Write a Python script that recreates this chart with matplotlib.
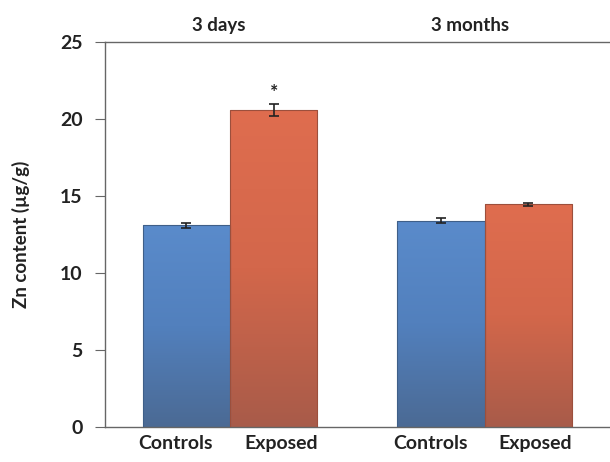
import numpy as np
import matplotlib.pyplot as plt
from matplotlib.colors import LinearSegmentedColormap

# values
groups = ['3 days', '3 months']
categories = ['Controls', 'Exposed', 'Controls', 'Exposed']
positions = [0, 1, 2.91, 3.91]
values = [13.1, 20.6, 13.4, 14.45]
errors = [0.15, 0.4, 0.15, 0.08]
significant = [False, True, False, False]

plt.rcParams['font.family'] = ['Lato', 'DejaVu Sans']
plt.rcParams['font.weight'] = 'bold'

fig = plt.figure(figsize=(6.1, 4.62), dpi=100)
ax = fig.add_axes([0.172, 0.076, 0.826, 0.833])

blue = LinearSegmentedColormap.from_list('b', ['#4b6a94', '#5280bd', '#5a8bcb'])
red = LinearSegmentedColormap.from_list('r', ['#a85b49', '#d3674b', '#df6d4f'])

width = 1.0
for i, (x, v) in enumerate(zip(positions, values)):
    cmap = blue if categories[i] == 'Controls' else red
    edge = '#3f5f88' if categories[i] == 'Controls' else '#9c4f3c'
    bar = ax.bar(x, v, width=width, color='none', edgecolor=edge, linewidth=0.8, zorder=3)[0]
    grad = np.linspace(0, 1, 256).reshape(-1, 1)
    im = ax.imshow(grad, cmap=cmap, aspect='auto', origin='lower',
                   extent=[x - width / 2, x + width / 2, 0, v], zorder=2)
    im.set_clip_path(bar)
    ax.errorbar(x, v, yerr=errors[i], fmt='none', ecolor='#222222',
                elinewidth=1.2, capsize=3.5, capthick=1.2, zorder=4)
    if significant[i]:
        ax.text(x, v + errors[i] + 0.2, '*', ha='center', va='bottom',
                fontsize=14, fontweight='bold', color='#222222')

ax.set_xlim(-0.93, 4.83)
ax.set_ylim(0, 25)
ax.set_yticks([0, 5, 10, 15, 20, 25])
# category labels sit a little apart from the bar centres, like the original
shift = {'Controls': -0.12, 'Exposed': 0.08}
ax.set_xticks([p + shift[c] for p, c in zip(positions, categories)])
ax.set_xticklabels(categories, fontsize=14, fontweight='bold', color='#222222')
ax.tick_params(axis='x', length=0, pad=6)
ax.tick_params(axis='y', length=7, color='#666666', labelsize=14, labelcolor='#222222', pad=9)
for lbl in ax.get_yticklabels():
    lbl.set_fontweight('bold')

ax.set_ylabel('Zn content (µg/g)', fontsize=13.5, fontweight='bold', color='#222222', labelpad=22)

for s in ['left', 'top', 'bottom']:
    ax.spines[s].set_color('#666666')
    ax.spines[s].set_linewidth(1.0)
ax.spines['right'].set_visible(False)

# group headers above the plot
ax.text(0.37, 26.1, groups[0], ha='center', va='center', fontsize=13.5, fontweight='bold', color='#222222')
ax.text(3.24, 26.1, groups[1], ha='center', va='center', fontsize=13.5, fontweight='bold', color='#222222')

fig.savefig('out.png', dpi=100)
